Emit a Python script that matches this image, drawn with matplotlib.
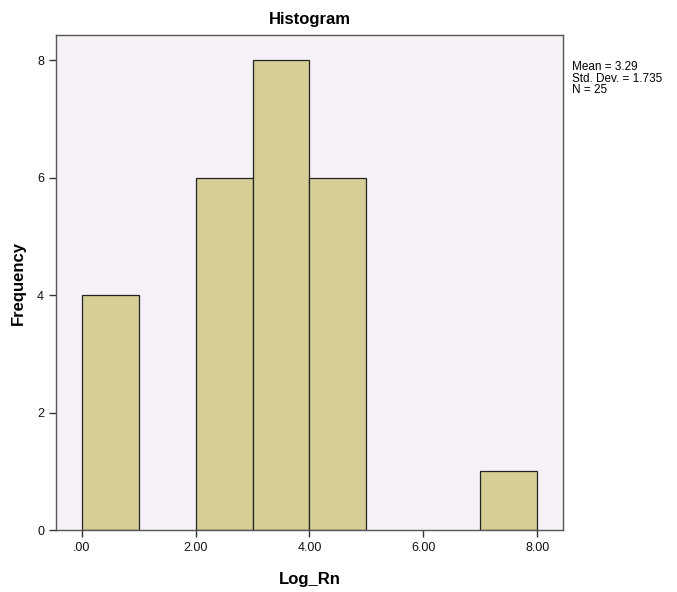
import numpy as np
import matplotlib.pyplot as plt

plt.rcParams['font.family'] = ['Liberation Sans', 'DejaVu Sans']

# histogram bins (left edges) and frequencies
bin_left = [0, 1, 2, 3, 4, 5, 6, 7]
counts = [4, 0, 6, 8, 6, 0, 0, 1]
bin_width = 1.0

x_ticks = [0, 2, 4, 6, 8]
x_tick_labels = ['.00', '2.00', '4.00', '6.00', '8.00']
y_ticks = [0, 2, 4, 6, 8]

stats_text = "Mean = 3.29\nStd. Dev. = 1.735\nN = 25"

fig = plt.figure(figsize=(6.77, 5.92), dpi=100)
ax = fig.add_axes([0.0827, 0.1047, 0.7489, 0.8362])
ax.set_facecolor('#F6F1F6')

left = [b for b, c in zip(bin_left, counts) if c > 0]
height = [c for c in counts if c > 0]
ax.bar(left, height, width=bin_width, align='edge',
       color='#D5CE96', edgecolor='#222222', linewidth=0.9)

ax.set_xlim(-0.45, 8.45)
ax.set_ylim(0, 8.43)
ax.set_xticks(x_ticks)
ax.set_xticklabels(x_tick_labels)
ax.set_yticks(y_ticks)
ax.tick_params(direction='out', length=5, width=1, labelsize=9,
               color='#333333', labelcolor='#111111')

for s in ax.spines.values():
    s.set_color('#555555')
    s.set_linewidth(1)

ax.set_title("Histogram", fontsize=12, fontweight='bold', pad=8)
ax.set_xlabel("Log_Rn", fontsize=12, fontweight='bold', labelpad=13)
ax.set_ylabel("Frequency", fontsize=12, fontweight='bold', labelpad=8)

fig.text(572 / 677, 1 - 61 / 592, stats_text, fontsize=8.5,
         va='top', ha='left', linespacing=0.95)

fig.savefig("out.png", dpi=100)
